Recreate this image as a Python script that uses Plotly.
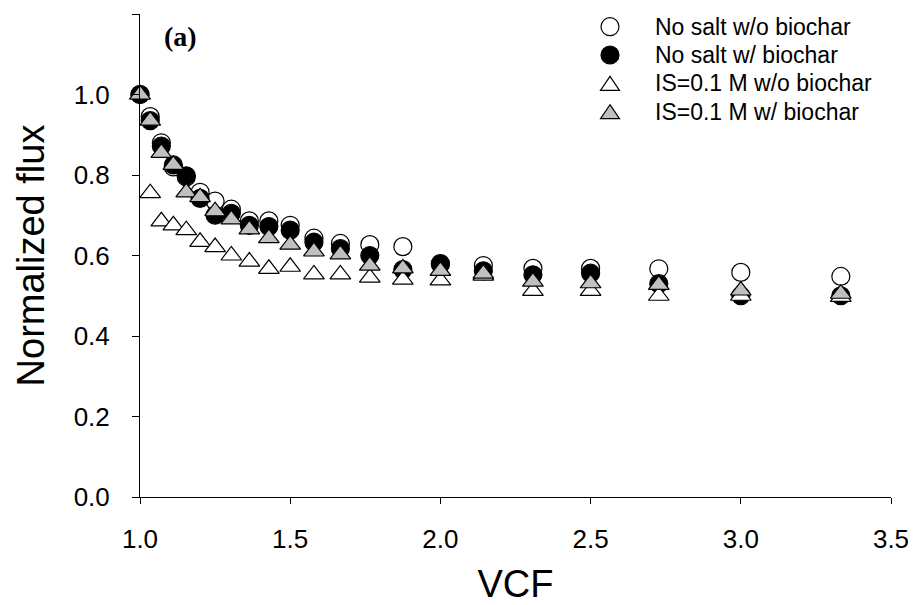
import plotly.graph_objects as go

# ---- data ----
vcf = [1.000, 1.034, 1.071, 1.111, 1.154, 1.200, 1.250, 1.304, 1.364, 1.429, 1.500,
       1.579, 1.667, 1.765, 1.875, 2.000, 2.143, 2.308, 2.500, 2.727, 3.000, 3.333]

no_salt_wo_biochar = [1.000, 0.945, 0.880, 0.820, 0.795, 0.757, 0.735, 0.715, 0.686, 0.686, 0.675,
                      0.643, 0.630, 0.627, 0.622, 0.580, 0.575, 0.568, 0.568, 0.567, 0.558, 0.548]
no_salt_w_biochar = [1.000, 0.935, 0.872, 0.825, 0.798, 0.742, 0.700, 0.705, 0.675, 0.672, 0.663,
                     0.633, 0.617, 0.600, 0.565, 0.578, 0.562, 0.552, 0.556, 0.530, 0.500, 0.500]
is01_wo_biochar = [1.000, 0.755, 0.685, 0.675, 0.663, 0.634, 0.621, 0.600, 0.585, 0.567, 0.572,
                   0.553, 0.553, 0.545, 0.540, 0.538, 0.550, 0.512, 0.512, 0.500, 0.500, 0.497]
is01_w_biochar = [1.000, 0.935, 0.855, 0.825, 0.757, 0.745, 0.710, 0.690, 0.665, 0.643, 0.627,
                  0.610, 0.603, 0.575, 0.568, 0.562, 0.555, 0.535, 0.531, 0.527, 0.513, 0.505]

series_names = ["No salt w/o biochar", "No salt w/ biochar",
                "IS=0.1 M w/o biochar", "IS=0.1 M w/ biochar"]

x_ticks = [1.0, 1.5, 2.0, 2.5, 3.0, 3.5]
y_ticks = [0.0, 0.2, 0.4, 0.6, 0.8, 1.0, 1.2]
y_ticktext = ["0.0", "0.2", "0.4", "0.6", "0.8", "1.0", ""]

# ---- styling ----
SANS = "Liberation Sans, Arial, sans-serif"
GRAY = "#c0c0c0"
symbols = ["circle", "circle", "triangle-up", "triangle-up"]
fills = ["white", "black", "white", GRAY]
data = [no_salt_wo_biochar, no_salt_w_biochar, is01_wo_biochar, is01_w_biochar]

fig = go.Figure()
for name, ys, sym, fc in zip(series_names, data, symbols, fills):
    fig.add_trace(go.Scatter(
        x=vcf, y=ys, mode="markers", name=name, cliponaxis=False, showlegend=False,
        marker=dict(symbol=sym, color=fc, size=18,
                    line=dict(color="black", width=1.2)),
    ))

W, H = 915, 605
L, R, T, B = 140, 24, 14, 108
PW, PH = W - L - R, H - T - B


def px2x(px):
    return (px - L) / PW


def px2y(py):
    return (H - B - py) / PH


# ---- hand-built legend (glyph + text) ----
leg_mark_x = 610
leg_text_x = 653
leg_rows = [26.7, 55.0, 83.3, 111.7]
shapes = []
annotations = []
for name, sym, fc, cy in zip(series_names, symbols, fills, leg_rows):
    if sym == "circle":
        r = 9
        shapes.append(dict(type="circle", xref="paper", yref="paper",
                           x0=px2x(leg_mark_x - r), x1=px2x(leg_mark_x + r),
                           y0=px2y(cy + r), y1=px2y(cy - r),
                           fillcolor=fc, line=dict(color="black", width=1.2)))
    else:
        hw, hh = 9.5, 7
        path = "M {:.5f},{:.5f} L {:.5f},{:.5f} L {:.5f},{:.5f} Z".format(
            px2x(leg_mark_x), px2y(cy - hh),
            px2x(leg_mark_x + hw), px2y(cy + hh),
            px2x(leg_mark_x - hw), px2y(cy + hh))
        shapes.append(dict(type="path", xref="paper", yref="paper", path=path,
                           fillcolor=fc, line=dict(color="black", width=1.2)))
    annotations.append(dict(text=name, xref="paper", yref="paper",
                            x=px2x(leg_text_x), y=px2y(cy),
                            xanchor="left", yanchor="middle", showarrow=False,
                            font=dict(family=SANS, size=23, color="black")))

annotations.append(dict(
    text="<b>(a)</b>", xref="paper", yref="paper",
    x=px2x(180), y=px2y(36),
    xanchor="center", yanchor="middle", showarrow=False,
    font=dict(family="Liberation Serif, Times New Roman, serif", size=28, color="black"),
))

fig.update_layout(
    width=W, height=H,
    margin=dict(l=L, r=R, t=T, b=B, pad=0, autoexpand=False),
    paper_bgcolor="white", plot_bgcolor="white",
    font=dict(family=SANS, color="black"),
    showlegend=False,
    xaxis=dict(
        range=[1.0, 3.5], tickvals=x_ticks, tickformat=".1f",
        showline=True, linecolor="black", linewidth=1,
        ticks="outside", ticklen=6, tickcolor="black", tickwidth=1,
        showgrid=False, zeroline=False,
        tickfont=dict(family=SANS, size=26),
        ticklabelstandoff=13,
        title=dict(text="VCF", font=dict(family=SANS, size=38), standoff=26),
    ),
    yaxis=dict(
        range=[0, 1.2], tickvals=y_ticks, ticktext=y_ticktext,
        showline=True, linecolor="black", linewidth=1,
        ticks="outside", ticklen=7, tickcolor="black", tickwidth=1,
        showgrid=False, zeroline=False,
        tickfont=dict(family=SANS, size=26),
        ticklabelstandoff=17,
        title=dict(text="Normalized flux", font=dict(family=SANS, size=38), standoff=17),
    ),
    shapes=shapes,
    annotations=annotations,
)

fig.write_html("out.html", config={"displayModeBar": False},
               post_script="document.body.style.margin='0px';")
